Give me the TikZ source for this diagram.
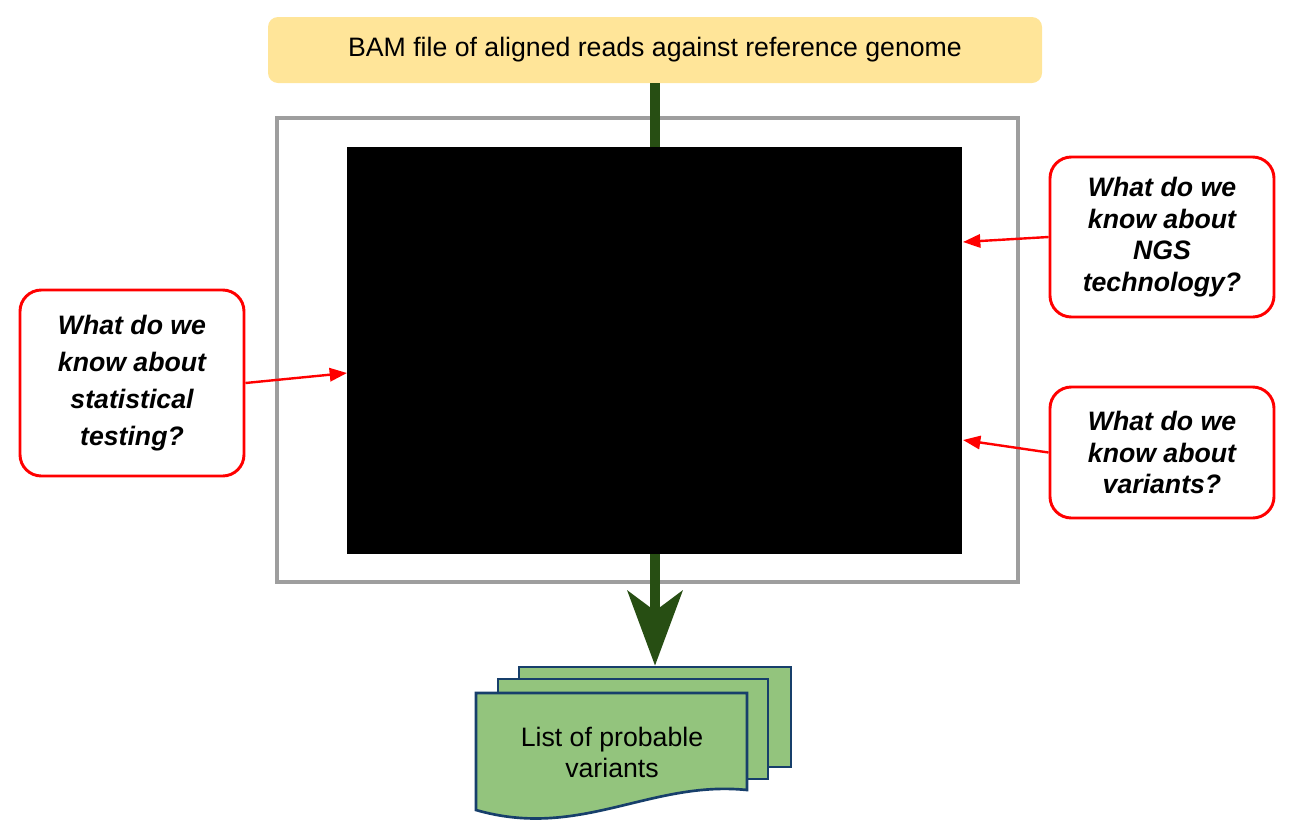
\documentclass[tikz,border=0pt]{standalone}
\usepackage{fontspec}
\setmainfont{Liberation Sans}
\usetikzlibrary{arrows.meta}
\definecolor{bamyellow}{HTML}{FFE599}
\definecolor{flowgreen}{HTML}{274E13}
\definecolor{docgreen}{HTML}{93C47D}
\definecolor{docblue}{HTML}{173F6B}
\definecolor{framegray}{HTML}{9E9E9E}
\definecolor{qred}{HTML}{FF0000}
\tikzset{
  question/.style={draw=qred, line width=2.2pt, fill=white, rounded corners=16pt,
    minimum width=168pt, align=center, font=\fontsize{20pt}{23.75pt}\selectfont\bfseries\itshape},
  qarrow/.style={draw=qred, line width=1.8pt, -{Triangle[length=13pt,width=10pt]}},
  pagebox/.style={draw=docblue, line width=2pt, fill=docgreen, minimum width=204pt, minimum height=75pt},
  flow/.style={draw=flowgreen, line width=7.5pt},
}
\begin{document}
\begin{tikzpicture}[x=0.75pt,y=-0.75pt]
\useasboundingbox (0,0) rectangle (1306,825);
% top box
\node[fill=bamyellow, rounded corners=7.5pt, minimum width=580.5pt, minimum height=49.5pt,
  font=\fontsize{20pt}{24pt}\selectfont] (bam) at (655,50) {BAM file of aligned reads against reference genome};
% frame and black box
\node[draw=framegray, line width=2.6pt, minimum width=555.75pt, minimum height=348pt] (frame) at (647.5,350) {};
\node[fill=black, minimum width=461.25pt, minimum height=305.25pt, inner sep=0pt] (black) at (654.5,350.5) {};
% pages
\node[pagebox] (page3) at (655,717) {};
\node[pagebox, minimum width=202.5pt] (page2) at (633,729) {};
\draw[draw=docblue, line width=2pt, fill=docgreen]
  (476,693) -- (747,693) -- (747,790) .. controls (650,780) and (580,840) .. (476,810) -- cycle;
\node[align=center, font=\fontsize{20pt}{23.25pt}\selectfont] (doc) at (612,752) {List of probable\\variants};
% flow connectors
\draw[flow] (bam.south) -- (bam.south |- black.north);
\draw[flow, -{Stealth[length=56pt,width=41pt,inset=15pt]}] (black.south -| page3.north) -- (page3.north);
% questions
\node[question, minimum height=120pt] (qngs) at (1162,237) {What do we\\know about\\NGS\\technology?};
\node[question, minimum height=98.25pt] (qvar) at (1162,452.5) {What do we\\know about\\variants?};
\node[question, minimum height=139.5pt, font=\fontsize{20pt}{27.75pt}\selectfont\bfseries\itshape] (qstat) at (132,383) {What do we\\know about\\statistical\\testing?};
\coordinate (tngs) at (963,242);
\coordinate (tvar) at (963,440);
\coordinate (tstat) at (347,373);
\draw[qarrow] (qngs.west) -- (tngs);
\draw[qarrow] (qvar.west) -- (tvar);
\draw[qarrow] (qstat.east) -- (tstat);
\end{tikzpicture}
\end{document}
